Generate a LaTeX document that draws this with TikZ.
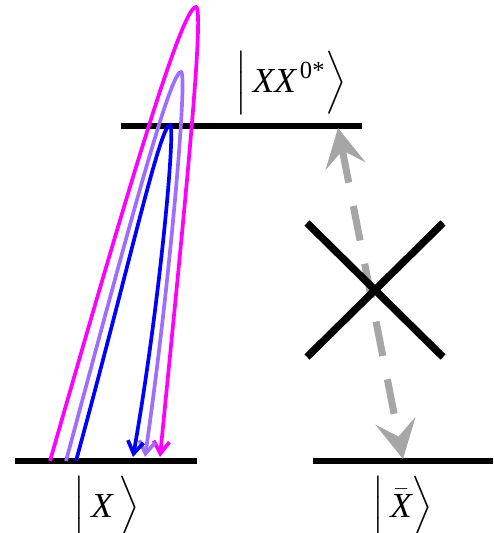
\documentclass[tikz,border=0pt]{standalone}
\usepackage{amsmath}
\usepackage{amssymb}
\usepackage{fontspec}
\setmainfont{Liberation Serif}
\usepackage{tikz}
\usetikzlibrary{positioning,arrows.meta,calc}
\definecolor{mag}{RGB}{255,0,255}
\definecolor{lav}{RGB}{160,110,255}
\definecolor{blu}{RGB}{0,0,255}
\newcommand{\itX}{\text{\itshape X}}

\begin{document}
\begin{tikzpicture}[
    x=0.02cm, y=0.02cm,
    font=\fontsize{20}{24}\selectfont,
    level/.style={line width=3pt},
    emis/.style={line width=2.1pt, -{Straight Barb[length=7pt, width=9pt]}},
    cross/.style={line width=4.2pt},
    trans/.style={line width=4pt, black!35, dash pattern=on 20pt off 13.5pt,
                  {Stealth[length=22pt, width=23pt, inset=9pt]}-{Stealth[length=22pt, width=23pt, inset=9pt]}},
  ]
  \useasboundingbox (0,0) rectangle (493,533);

  % energy levels
  \coordinate (xxl) at (121,407);
  \coordinate (xxr) at (362,407);
  \coordinate (xl) at (15,72);
  \coordinate (xr) at (197,72);
  \coordinate (bl) at (313,72);
  \coordinate (br) at (493,72);
  \draw[level] (xxl) -- (xxr);
  \draw[level] (xl) -- (xr);
  \draw[level] (bl) -- (br);

  % labels
  \node (xxlab) at (291,450) {$\Big|\,\itX\itX^{\,\text{0*}}\Big\rangle$};
  \node (xlab) at (107,25) {$\Big|\,\itX\,\Big\rangle$};
  \node (blab) at (403,25) {$\Big|\,\bar{\itX}\Big\rangle$};

  % emission loops
  \coordinate (m0) at (50,72);
  \coordinate (m1) at (196,526);
  \coordinate (m2) at (160,76);
  \coordinate (p0) at (66,72);
  \coordinate (p1) at (181,461);
  \coordinate (p2) at (145,76);
  \coordinate (b0) at (76,72);
  \coordinate (b1) at (170,408);
  \coordinate (b2) at (133,76);
  \draw[emis, mag] (m0) .. controls (130,351) and (182,526) .. (m1)
    .. controls (206,526) and (178,260) .. (m2);
  \draw[emis, lav] (p0) .. controls (130,310) and (170,461) .. (p1)
    .. controls (188,461) and (170,250) .. (p2);
  \draw[emis, blu] (b0) .. controls (130,270) and (160,408) .. (b1)
    .. controls (176,408) and (160,230) .. (b2);

  % forbidden transition
  \coordinate (ttop) at (338,405);
  \coordinate (tbot) at (403,74);
  \draw[trans] (ttop) -- (tbot);
  \draw[cross] (307,310) -- (443,176);
  \draw[cross] (307,176) -- (443,310);
\end{tikzpicture}
\end{document}
